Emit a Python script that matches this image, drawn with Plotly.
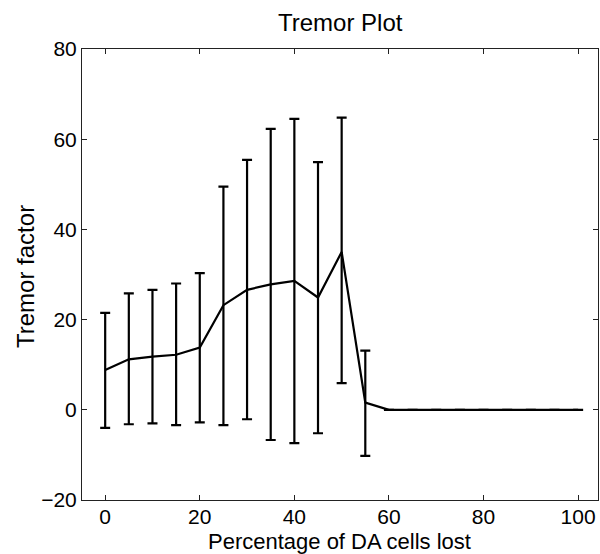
import plotly.graph_objects as go

# Data
pct_lost = [0, 5, 10, 15, 20, 25, 30, 35, 40, 45, 50, 55, 60, 65, 70, 75, 80, 85, 90, 95, 100]
tremor = [8.8, 11.2, 11.8, 12.2, 13.8, 23.2, 26.6, 27.8, 28.6, 24.9, 35.0, 1.6, 0, 0, 0, 0, 0, 0, 0, 0, 0]
err_plus = [12.7, 14.6, 14.8, 15.8, 16.5, 26.3, 28.8, 34.5, 35.9, 30.0, 29.8, 11.5, 0, 0, 0, 0, 0, 0, 0, 0, 0]
err_minus = [12.8, 14.4, 14.8, 15.6, 16.6, 26.6, 28.7, 34.5, 36.0, 30.1, 29.1, 11.8, 0, 0, 0, 0, 0, 0, 0, 0, 0]

x_ticks = [0, 20, 40, 60, 80, 100]
y_ticks = [-20, 0, 20, 40, 60, 80]

FONT = "Arial, Liberation Sans, Helvetica, sans-serif"

fig = go.Figure()
fig.add_trace(go.Scatter(
    x=pct_lost, y=tremor, mode="lines",
    line=dict(color="black", width=2.2),
    error_y=dict(type="data", array=err_plus, arrayminus=err_minus, symmetric=False,
                 color="black", thickness=2.2, width=5),
    showlegend=False,
))

axis_common = dict(
    showgrid=False, zeroline=False, showline=True, linecolor="#222", linewidth=1,
    mirror="ticks", ticks="inside", ticklen=5, tickwidth=1, tickcolor="#222",
    tickfont=dict(family=FONT, size=21, color="black"),
)

fig.update_layout(
    width=600, height=554,
    margin=dict(l=82, r=2, t=49, b=54),
    paper_bgcolor="white", plot_bgcolor="white",
    xaxis=dict(range=[-4.9, 104.2], tickvals=x_ticks, ticklabelstandoff=-2, **axis_common),
    yaxis=dict(range=[-20, 80], tickvals=y_ticks, **axis_common),
)

fig.add_annotation(text="Tremor Plot", xref="paper", yref="paper", x=0.5, y=1 + 27 / 451,
                   showarrow=False, yanchor="middle", font=dict(family=FONT, size=24, color="black"))
fig.add_annotation(text="Percentage of DA cells lost", xref="paper", yref="paper", x=(339 - 82) / 516,
                   y=-(41 / 451), showarrow=False, yanchor="middle",
                   font=dict(family=FONT, size=22, color="black"))
fig.add_annotation(text="Tremor factor", xref="paper", yref="paper", x=-(57 / 516),
                   y=(500 - 277) / 451, showarrow=False, textangle=-90, xanchor="center", yanchor="middle",
                   font=dict(family=FONT, size=24, color="black"))

fig.write_html("out.html")
